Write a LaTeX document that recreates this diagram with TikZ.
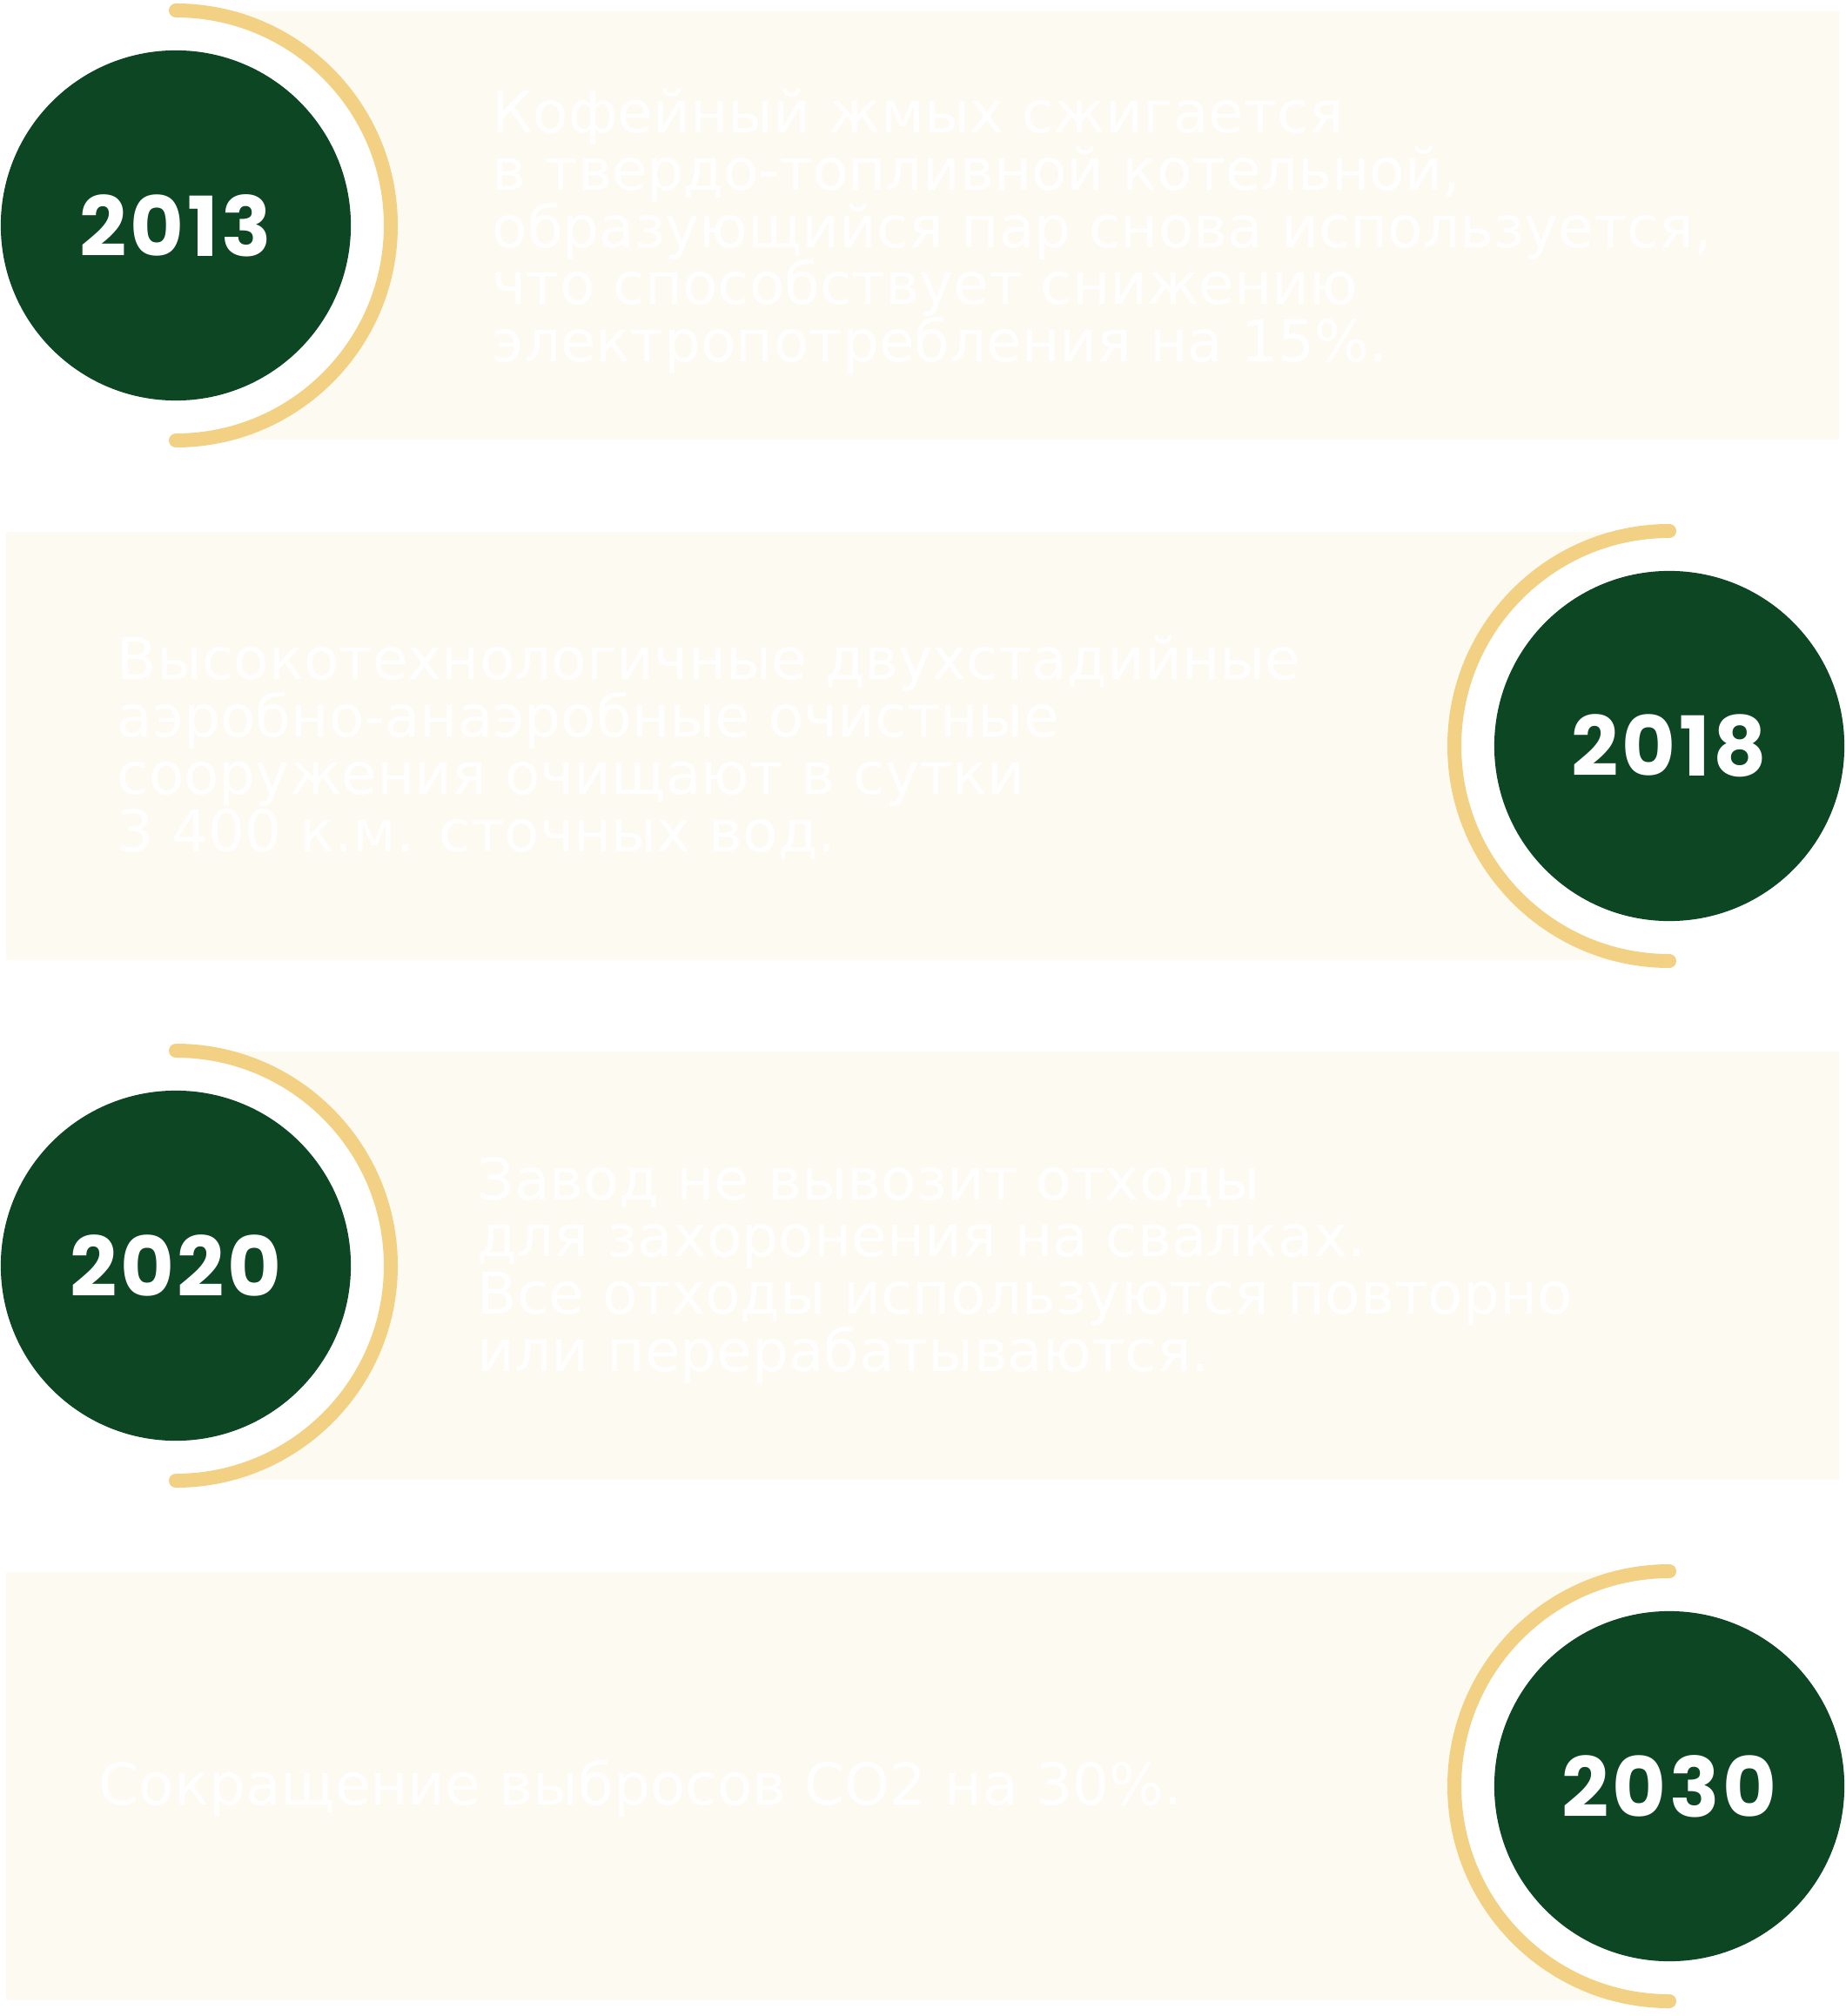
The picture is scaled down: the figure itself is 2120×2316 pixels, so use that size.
\documentclass[tikz,border=0pt]{standalone}
\usepackage{fontspec}
\setmainfont{DejaVu Sans}
\newfontfamily\yearfont[LetterSpace=4]{Poppins}

\definecolor{leafgreen}{HTML}{0C4622}
\definecolor{sand}{HTML}{F2D184}
\definecolor{cream}{HTML}{FDFAF1}

\begin{document}
\begin{tikzpicture}[x=0.01cm,y=0.01cm,
  panel/.style={fill=cream},
  ring/.style={draw=sand,line width=0.16cm,line cap=round},
  yearbadge/.style={circle,fill=leafgreen,minimum size=4.02cm,inner sep=0pt,text=white,
    font=\yearfont\bfseries\fontsize{27}{27}\selectfont},
  story/.style={anchor=west,align=left,inner sep=0pt,text=white,
    font=\fontsize{18.8}{18.7}\selectfont}]
\useasboundingbox (0,0) rectangle (2120,-2316);

% 2013
\fill[panel] (202,-13) rectangle (2113,-505);
\fill[white] (202,-259) circle[radius=247];
\node[yearbadge] (b2013) at (202,-259) {2013};
\draw[ring] (b2013.center) ++(0,247) arc[start angle=90,end angle=-90,radius=247];
\node[story] (t2013) at (565,-266) {Кофейный жмых сжигается\\в твердо-топливной котельной,\\образующийся пар снова используется,\\что способствует снижению\\электропотребления на 15\%.};

% 2018
\fill[panel] (7,-611) rectangle (1918,-1103);
\fill[white] (1918,-857) circle[radius=247];
\node[yearbadge] (b2018) at (1918,-857) {2018};
\draw[ring] (b2018.center) ++(0,247) arc[start angle=90,end angle=270,radius=247];
\node[story] (t2018) at (134,-859) {Высокотехнологичные двухстадийные\\аэробно-анаэробные очистные\\сооружения очищают в сутки\\3~400 к.м. сточных вод.};

% 2020
\fill[panel] (202,-1208) rectangle (2113,-1700);
\fill[white] (202,-1454) circle[radius=247];
\node[yearbadge] (b2020) at (202,-1454) {2020};
\draw[ring] (b2020.center) ++(0,247) arc[start angle=90,end angle=-90,radius=247];
\node[story] (t2020) at (548,-1459) {Завод не вывозит отходы\\для захоронения на свалках.\\Все отходы используются повторно\\или перерабатываются.};

% 2030
\fill[panel] (7,-1806) rectangle (1918,-2298);
\fill[white] (1918,-2052) circle[radius=247];
\node[yearbadge] (b2030) at (1918,-2052) {2030};
\draw[ring] (b2030.center) ++(0,247) arc[start angle=90,end angle=270,radius=247];
\node[story] (t2030) at (113,-2055) {Сокращение выбросов CO2 на 30\%.};
\end{tikzpicture}
\end{document}
